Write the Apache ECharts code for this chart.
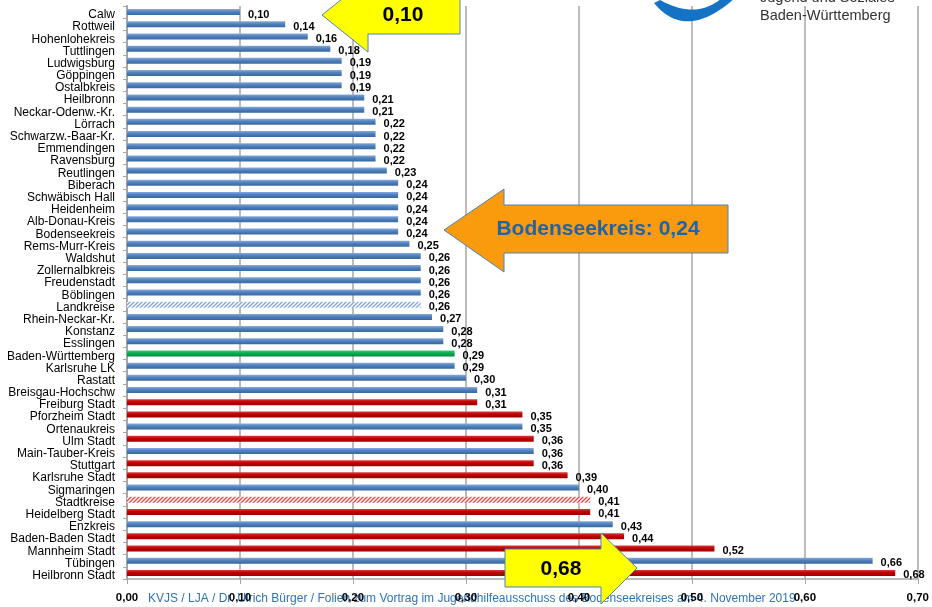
<!DOCTYPE html>
<html>
<head>
<meta charset="utf-8">
<script src="https://cdn.jsdelivr.net/npm/echarts@6/dist/echarts.min.js"></script>
<style>
  html, body { margin: 0; padding: 0; background: #fff; }
  #chart { width: 932px; height: 607px; }
</style>
</head>
<body>
<div id="chart"></div>
<script>
// Kreise in Baden-Württemberg, Kennzahl je Kreis (Reihenfolge von oben nach unten)
const categories = [
  'Calw', 'Rottweil', 'Hohenlohekreis', 'Tuttlingen', 'Ludwigsburg', 'Göppingen',
  'Ostalbkreis', 'Heilbronn', 'Neckar-Odenw.-Kr.', 'Lörrach', 'Schwarzw.-Baar-Kr.',
  'Emmendingen', 'Ravensburg', 'Reutlingen', 'Biberach', 'Schwäbisch Hall',
  'Heidenheim', 'Alb-Donau-Kreis', 'Bodenseekreis', 'Rems-Murr-Kreis', 'Waldshut',
  'Zollernalbkreis', 'Freudenstadt', 'Böblingen', 'Landkreise', 'Rhein-Neckar-Kr.',
  'Konstanz', 'Esslingen', 'Baden-Württemberg', 'Karlsruhe LK', 'Rastatt',
  'Breisgau-Hochschw', 'Freiburg Stadt', 'Pforzheim Stadt', 'Ortenaukreis',
  'Ulm Stadt', 'Main-Tauber-Kreis', 'Stuttgart', 'Karlsruhe Stadt', 'Sigmaringen',
  'Stadtkreise', 'Heidelberg Stadt', 'Enzkreis', 'Baden-Baden Stadt',
  'Mannheim Stadt', 'Tübingen', 'Heilbronn Stadt'
];

const values = [
  0.10, 0.14, 0.16, 0.18, 0.19, 0.19,
  0.19, 0.21, 0.21, 0.22, 0.22,
  0.22, 0.22, 0.23, 0.24, 0.24,
  0.24, 0.24, 0.24, 0.25, 0.26,
  0.26, 0.26, 0.26, 0.26, 0.27,
  0.28, 0.28, 0.29, 0.29, 0.30,
  0.31, 0.31, 0.35, 0.35,
  0.36, 0.36, 0.36, 0.39, 0.40,
  0.41, 0.41, 0.43, 0.44,
  0.52, 0.66, 0.68
];

// lk = Landkreis, sk = Stadtkreis, bw = Land gesamt, lkAvg/skAvg = Durchschnittswerte
const groups = [
  'lk', 'lk', 'lk', 'lk', 'lk', 'lk',
  'lk', 'lk', 'lk', 'lk', 'lk',
  'lk', 'lk', 'lk', 'lk', 'lk',
  'lk', 'lk', 'lk', 'lk', 'lk',
  'lk', 'lk', 'lk', 'lkAvg', 'lk',
  'lk', 'lk', 'bw', 'lk', 'lk',
  'lk', 'sk', 'sk', 'lk',
  'sk', 'lk', 'sk', 'sk', 'lk',
  'skAvg', 'sk', 'lk', 'sk',
  'sk', 'lk', 'sk'
];

const xTicks = [0, 0.1, 0.2, 0.3, 0.4, 0.5, 0.6, 0.7];

function fmt(v) { return v.toFixed(2).replace('.', ','); }

function vGrad(top, mid, bottom) {
  return {
    type: 'linear', x: 0, y: 0, x2: 0, y2: 1,
    colorStops: [
      { offset: 0, color: top },
      { offset: 0.45, color: mid },
      { offset: 1, color: bottom }
    ]
  };
}

function hatch(color) {
  const c = document.createElement('canvas');
  c.width = 4; c.height = 4;
  const ctx = c.getContext('2d');
  ctx.fillStyle = '#ffffff';
  ctx.fillRect(0, 0, 4, 4);
  ctx.strokeStyle = color;
  ctx.lineWidth = 1.3;
  ctx.beginPath();
  ctx.moveTo(-1, 5); ctx.lineTo(5, -1);
  ctx.moveTo(-1, 1); ctx.lineTo(1, -1);
  ctx.moveTo(3, 5); ctx.lineTo(5, 3);
  ctx.stroke();
  return { image: c, repeat: 'repeat' };
}

const styles = {
  lk: { color: vGrad('#86ABDA', '#4F81BD', '#3A679E') },
  sk: { color: vGrad('#DC3C3C', '#C00000', '#9A0000') },
  bw: { color: vGrad('#3FCB7C', '#00B050', '#008A3E') },
  lkAvg: { color: hatch('#7FA6D6') },
  skAvg: { color: hatch('#E04848') }
};

const barData = values.map((v, i) => ({
  value: v,
  itemStyle: styles[groups[i]]
}));

// Logo-Bogen als Sichel aus zwei quadratischen Kurven
function quad(p0, p1, p2, n) {
  const pts = [];
  for (let k = 0; k <= n; k++) {
    const t = k / n, u = 1 - t;
    pts.push([u * u * p0[0] + 2 * u * t * p1[0] + t * t * p2[0],
              u * u * p0[1] + 2 * u * t * p1[1] + t * t * p2[1]]);
  }
  return pts;
}
const swoosh = quad([654, 3], [686, 42], [735, -2], 30)
  .concat(quad([722, -2], [696, 20], [660, 0], 30));

const chart = echarts.init(document.getElementById('chart'), null, { renderer: 'canvas' });

const font = '"Liberation Sans", Arial, sans-serif';

chart.setOption({
  animation: false,
  backgroundColor: '#ffffff',
  grid: { left: 127, right: 12, top: 6, bottom: 28, containLabel: false },
  xAxis: {
    type: 'value',
    min: 0,
    max: 0.7,
    interval: 0.1,
    axisLine: { show: true, lineStyle: { color: '#A6A6A6', width: 1.5 } },
    axisTick: { show: true, length: 5, lineStyle: { color: '#A6A6A6' } },
    splitLine: { show: true, lineStyle: { color: '#A6A6A6', width: 1.5 } },
    axisLabel: {
      margin: 13,
      fontFamily: font,
      fontSize: 11.5,
      fontWeight: 'bold',
      color: '#000',
      formatter: v => fmt(xTicks.reduce((a, b) => Math.abs(b - v) < Math.abs(a - v) ? b : a))
    }
  },
  yAxis: {
    type: 'category',
    data: categories,
    inverse: true,
    axisLine: { show: true, lineStyle: { color: '#A6A6A6', width: 2 } },
    axisTick: { show: true, length: 4, lineStyle: { color: '#A6A6A6' } },
    axisLabel: {
      margin: 12,
      fontFamily: font,
      fontSize: 12,
      color: '#000',
      interval: 0,
      verticalAlign: 'top',
      lineHeight: 5.5
    }
  },
  series: [{
    type: 'bar',
    data: barData,
    barWidth: 6,
    label: {
      show: true,
      position: 'right',
      distance: 8,
      offset: [0, 2.5],
      fontFamily: font,
      fontSize: 11,
      fontWeight: 'bold',
      color: '#000',
      formatter: p => fmt(p.value)
    }
  }],
  graphic: [
    // Fußzeile
    {
      type: 'text', left: 148, top: 593, z: -1,
      style: {
        text: 'KVJS / LJA / Dr. Ulrich Bürger / Folien zum Vortrag im Jugendhilfeausschuss des Bodenseekreises am 4. November 2019',
        font: '12px ' + font, fill: '#2E74B5'
      }
    },
    // Logo
    {
      type: 'polygon', z: 10,
      shape: { points: swoosh },
      style: { fill: '#1473C4' }
    },
    {
      type: 'text', x: 760, y: -2, z: 10,
      style: { text: 'Jugend und Soziales', font: '14.5px ' + font, fill: '#333', verticalAlign: 'middle' }
    },
    {
      type: 'text', left: 760, top: 8, z: 10,
      style: { text: 'Baden-Württemberg', font: '14.5px ' + font, fill: '#333' }
    },
    // Hinweis-Pfeil oben: niedrigster Wert
    {
      type: 'polygon', z: 20,
      shape: { points: [[322, 15], [368, -22], [368, -4], [460, -4], [460, 34], [368, 34], [368, 52]] },
      style: { fill: '#FFFF00', stroke: '#4F81BD', lineWidth: 1 }
    },
    {
      type: 'text', x: 403, y: 15, z: 21,
      style: { text: '0,10', font: 'bold 21px ' + font, fill: '#000', align: 'center', verticalAlign: 'middle' }
    },
    // Hinweis-Pfeil Bodenseekreis
    {
      type: 'polygon', z: 20,
      shape: { points: [[444, 230], [504, 189], [504, 205], [728, 205], [728, 253], [504, 253], [504, 272]] },
      style: { fill: '#F99B0C', stroke: '#4F81BD', lineWidth: 1 }
    },
    {
      type: 'text', x: 598, y: 229, z: 21,
      style: { text: 'Bodenseekreis: 0,24', font: 'bold 21px ' + font, fill: '#1F64A8', align: 'center', verticalAlign: 'middle' }
    },
    // Hinweis-Pfeil unten: höchster Wert
    {
      type: 'polygon', z: 20,
      shape: { points: [[505, 549], [601, 549], [601, 533], [637, 568], [601, 604], [601, 587], [505, 587]] },
      style: { fill: '#FFFF00', stroke: '#4F81BD', lineWidth: 1 }
    },
    {
      type: 'text', x: 561, y: 569, z: 21,
      style: { text: '0,68', font: 'bold 21px ' + font, fill: '#000', align: 'center', verticalAlign: 'middle' }
    }
  ]
});
</script>
</body>
</html>
